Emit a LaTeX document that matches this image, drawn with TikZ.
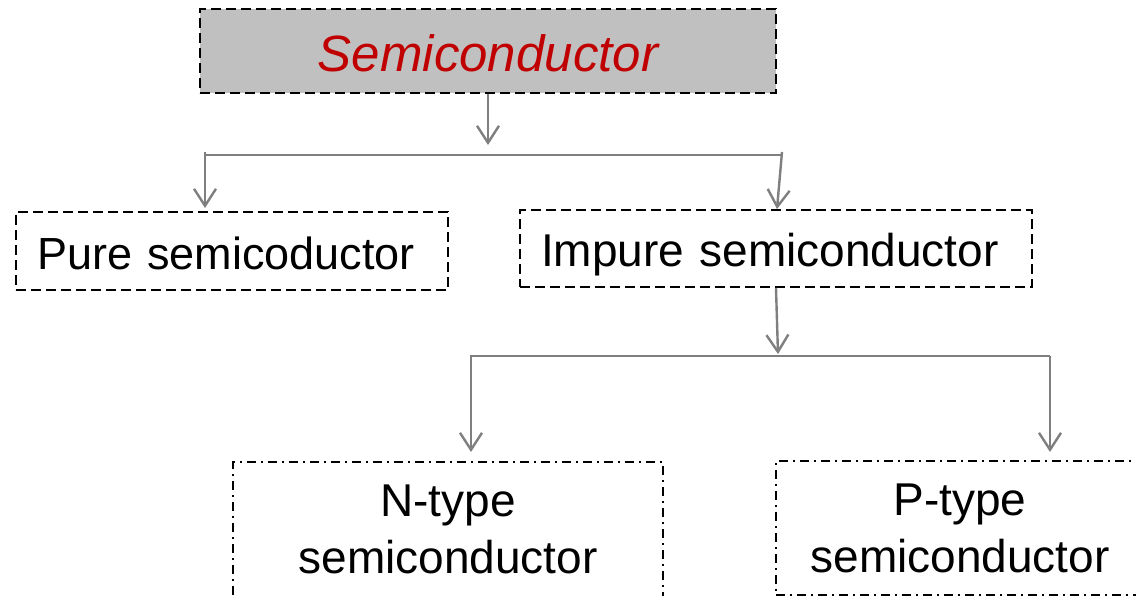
\documentclass[tikz,border=0pt]{standalone}
\usepackage{fontspec}
\setmainfont{Liberation Sans}
\usetikzlibrary{arrows.meta}
\definecolor{topfill}{HTML}{C0C0C0}
\definecolor{topred}{HTML}{C00000}
\definecolor{conn}{HTML}{7F7F7F}
\tikzset{
  dbox/.style={draw=black, line width=2pt, dash pattern=on 10pt off 5pt, rectangle, inner ysep=0pt},
  ddbox/.style={draw=black, line width=1.6pt, dash pattern=on 9pt off 5pt on 2pt off 5pt, rectangle},
  conline/.style={draw=conn, line width=2.4pt},
  conarrow/.style={conline, -{Straight Barb[length=17pt,width=22pt,line width=2.4pt]}},
  lbl/.style={font=\fontsize{46}{57}\selectfont, inner sep=0pt},
}
\begin{document}
\begin{tikzpicture}[x=1pt,y=-1pt]
\useasboundingbox (0,0) rectangle (1136,596);
% boxes
\node[dbox, fill=topfill, minimum width=576pt, minimum height=84pt, text height=42pt, text depth=0pt,
      font=\fontsize{51}{61}\selectfont\itshape, text=topred] (semi) at (488,51) {Semiconductor};
\node[dbox, minimum width=432pt, minimum height=78pt, text height=38pt, text depth=0pt,
      inner xsep=21pt, text width=390pt, align=left, font=\fontsize{45}{57}\selectfont] (pure) at (232,251) {Pure semicoductor};
\node[dbox, minimum width=512pt, minimum height=77pt, text height=37pt, text depth=0pt,
      inner xsep=21pt, text width=470pt, align=left, font=\fontsize{46}{57}\selectfont] (impure) at (776,248.5) {Impure semiconductor};
\node[ddbox, minimum width=430pt, minimum height=150pt, anchor=north] (nbox) at (448,461) {};
\node[ddbox, minimum width=380pt, minimum height=134pt, anchor=north west] (pbox) at (775,460) {};
\node[lbl, anchor=base] (n1) at (448,516) {N-type};
\node[lbl, anchor=base] (n2) at (448,573) {semiconductor};
\node[lbl, anchor=base] (p1) at (960,515) {P-type};
\node[lbl, anchor=base] (p2) at (960,572) {semiconductor};
% hub coordinates
\coordinate (a1) at (488,145);
\coordinate (h1L) at (205,155);
\coordinate (h1R) at (782,155);
\coordinate (t1L) at (205,152);
\coordinate (t1R) at (782,152);
\coordinate (a2) at (777,209);
\coordinate (a3) at (778,354);
\coordinate (h2L) at (470,356);
\coordinate (h2R) at (1050,356);
\coordinate (sn) at (471,356);
\coordinate (en) at (471,452);
\coordinate (ep) at (1050,452);
% connectors
\draw[conarrow] (semi.south) -- (a1);
\draw[conline] (h1L) -- (h1R);
\draw[conarrow, shorten >=3pt] (t1L) -- (t1L |- pure.north);
\draw[conarrow] (t1R) -- (a2);
\draw[conarrow] (impure.south) -- (a3);
\draw[conline] (h2L) -- (h2R);
\draw[conarrow] (sn) -- (en);
\draw[conarrow] (h2R) -- (ep);
\end{tikzpicture}
\end{document}
